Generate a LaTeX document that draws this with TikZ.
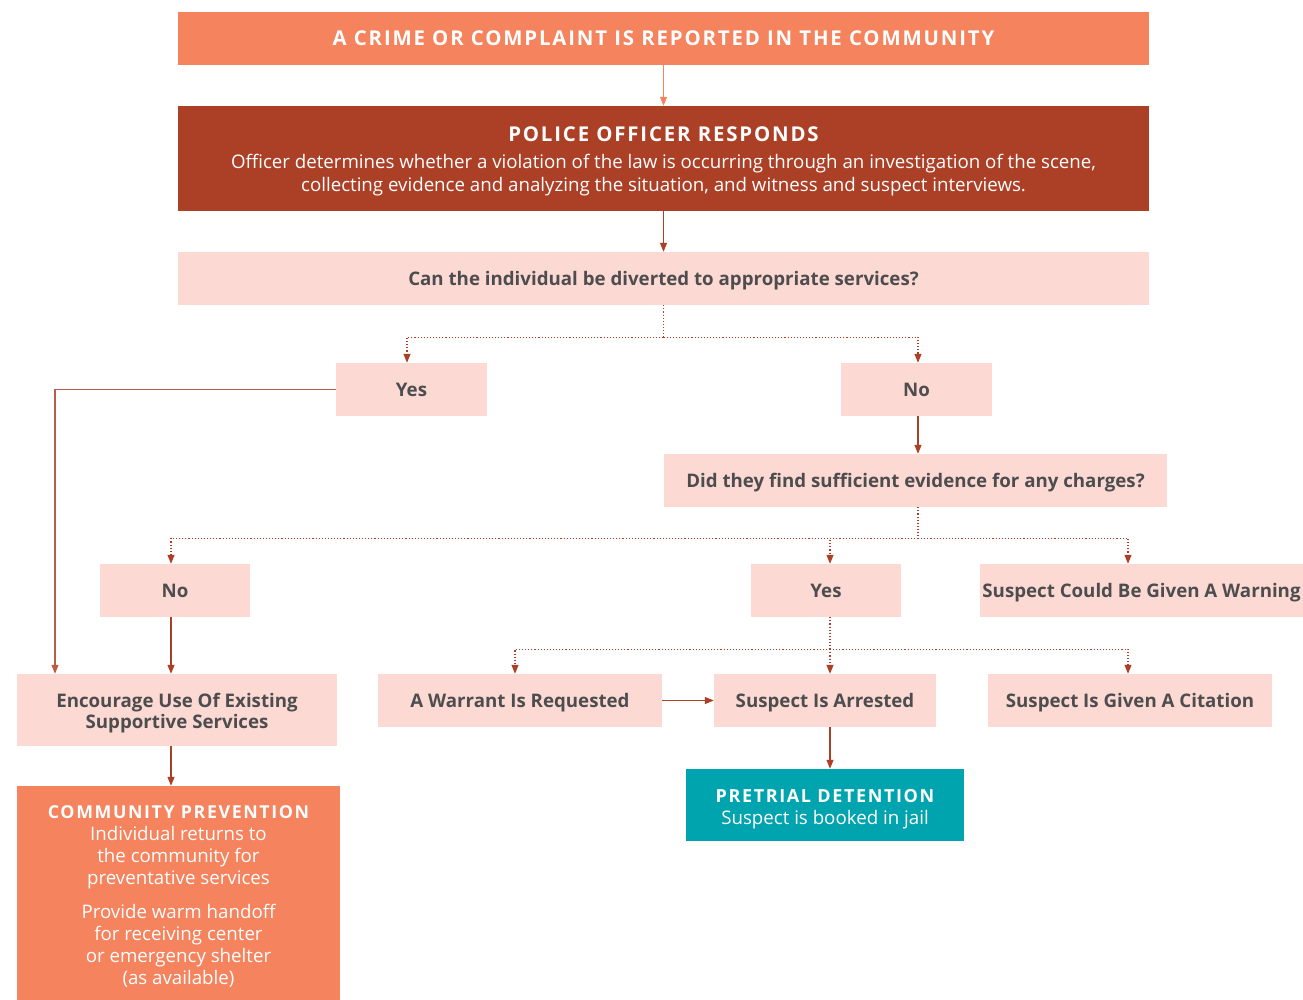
\documentclass[tikz,border=0pt]{standalone}
\usepackage{fontspec}
\setmainfont{Open Sans}
\usetikzlibrary{arrows.meta,positioning}
\definecolor{salmon}{RGB}{244,131,94}
\definecolor{brick}{RGB}{172,64,39}
\definecolor{blush}{RGB}{252,217,210}
\definecolor{lagoon}{RGB}{0,164,175}
\definecolor{ink}{RGB}{77,77,79}
\newcommand{\capsp}{\addfontfeature{LetterSpace=9}}
\newcommand{\tstrut}{\rule{0pt}{20.5pt}}
\tikzstyle{box}=[rectangle,inner sep=0pt,align=center,
  font=\fontsize{18.7}{22}\selectfont]
\tikzstyle{pinkbox}=[box,fill=blush,text=ink,minimum height=53pt,
  font=\bfseries\fontsize{18.7}{21}\selectfont]
\tikzstyle{choice}=[pinkbox,text height=13.5pt,text depth=0pt]
\tikzstyle{banner}=[box,text=white]
\tikzstyle{dots}=[draw=brick,line width=1.1pt,dotted]
\tikzstyle{flow}=[draw=brick,line width=1.1pt,-{Triangle[length=9pt,width=7pt]}]
\tikzstyle{branch}=[flow,dotted]

\begin{document}
\begin{tikzpicture}[x=1pt,y=-1pt]
  \useasboundingbox (0,0) rectangle (1303,1000);

  \node[banner,fill=salmon,minimum width=971pt,minimum height=53pt,
    text height=14.6pt,text depth=0pt,
    font=\bfseries\fontsize{20.4}{22}\selectfont\capsp] (crime) at (663.5,38.5)
    {A CRIME OR COMPLAINT IS REPORTED IN THE COMMUNITY};
  \node[banner,fill=brick,minimum width=971pt,minimum height=105pt,
    font=\fontsize{18.7}{23}\selectfont] (police) at (663.5,158.5)
    {\tstrut{\bfseries\fontsize{20.4}{23}\selectfont\capsp POLICE OFFICER RESPONDS}\\[4pt]
     Officer determines whether a violation of the law is occurring through an investigation of the scene,\\
     collecting evidence and analyzing the situation, and witness and suspect interviews.};
  \node[choice,minimum width=971pt] (quest) at (663.5,278.5)
    {Can the individual be diverted to appropriate services?};

  \node[choice,minimum width=151pt] (yes) at (411.5,389.5) {Yes};
  \node[choice,minimum width=151pt] (no) at (916.5,389.5) {No};
  \node[choice,minimum width=503pt] (evid) at (915.5,480.5)
    {Did they find sufficient evidence for any charges?};

  \node[choice,minimum width=150pt] (no2) at (175,590.5) {No};
  \node[choice,minimum width=150pt] (yes2) at (826,590.5) {Yes};
  \node[choice,minimum width=323pt] (warn) at (1141.5,590.5)
    {Suspect Could Be Given A Warning};

  \node[pinkbox,minimum width=320pt,minimum height=72pt] (enc) at (177,710)
    {\tstrut Encourage Use Of Existing\\Supportive Services};
  \node[choice,minimum width=284pt] (warrant) at (520,700.5) {A Warrant Is Requested};
  \node[choice,minimum width=222pt] (arrest) at (825,700.5) {Suspect Is Arrested};
  \node[choice,minimum width=284pt] (cite) at (1130,700.5) {Suspect Is Given A Citation};

  \node[banner,fill=lagoon,minimum width=278pt,minimum height=72pt] (jail) at (825,805)
    {\tstrut{\bfseries\fontsize{18}{22}\selectfont\capsp PRETRIAL DETENTION}\\Suspect is booked in jail};
  \node[banner,fill=salmon,minimum width=323pt,minimum height=214pt] (comm) at (178.5,893)
    {\rule{0pt}{20.7pt}{\bfseries\fontsize{17.8}{22}\selectfont\capsp COMMUNITY PREVENTION}\\
     Individual returns to\\the community for\\preventative services\\[12pt]
     Provide warm handoff\\for receiving center\\or emergency shelter\\(as available)};

  % solid connectors
  \draw[flow,draw=salmon] (crime) -- (police);
  \draw[flow] (police) -- (quest);
  \draw[flow,draw=brick!85] (yes.west) -| ([xshift=-122pt]enc.north);
  \draw[flow] ([xshift=1.5pt]no.south) -- ([xshift=2.5pt]evid.north);
  \draw[flow] ([xshift=-4pt]no2.south) -- ([xshift=-6pt]enc.north);
  \draw[flow] ([xshift=-6pt]enc.south) -- ([xshift=-7.5pt]comm.north);
  \draw[flow] (warrant) -- (arrest);
  \draw[flow] ([xshift=5pt]arrest.south) -- ([xshift=5pt]jail.north);

  % dotted branches
  \draw[dots] (quest.south) -- ++(0,32) coordinate (fork1);
  \draw[branch] (fork1) -| ([xshift=-4.5pt]yes.north);
  \draw[branch] (fork1) -| ([xshift=1.5pt]no.north);

  \draw[dots] ([xshift=2.5pt]evid.south) -- ++(0,31) coordinate (fork2);
  \draw[branch] (fork2) -| ([xshift=-4pt]no2.north);
  \draw[branch] (fork2) -| ([xshift=4pt]yes2.north);
  \draw[branch] (fork2) -| ([xshift=-13.5pt]warn.north);

  \draw[dots] ([xshift=4pt]yes2.south) -- ++(0,32) coordinate (fork3);
  \draw[branch] (fork3) -| ([xshift=-5pt]warrant.north);
  \draw[branch] (fork3) -| ([xshift=5pt]arrest.north);
  \draw[branch] (fork3) -| ([xshift=-2pt]cite.north);
\end{tikzpicture}
\end{document}
